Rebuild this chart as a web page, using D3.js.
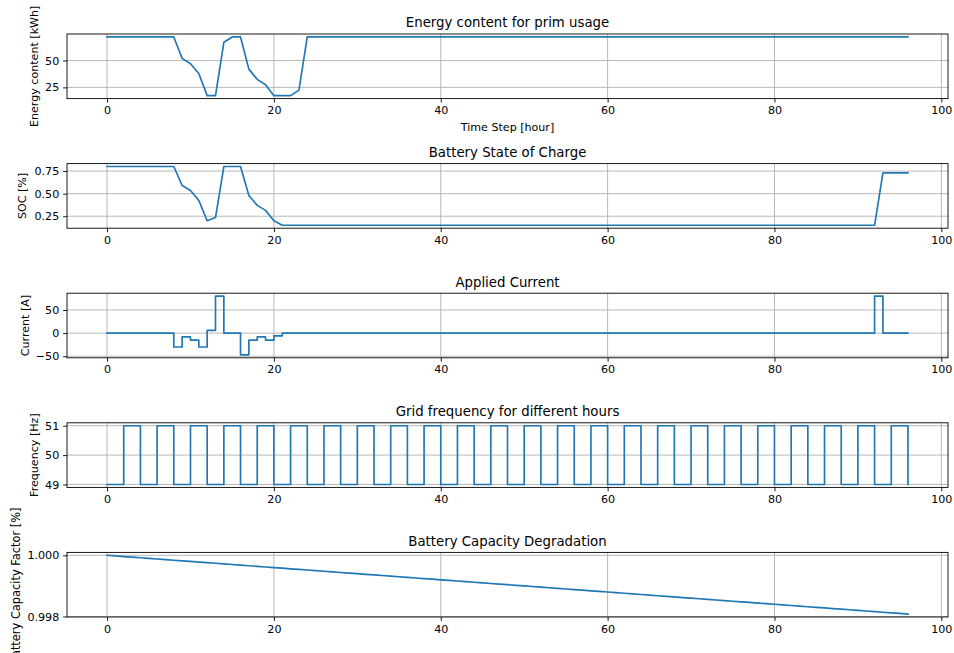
<!DOCTYPE html>
<html>
<head>
<meta charset="utf-8">
<script src="https://cdn.jsdelivr.net/npm/d3@7"></script>
<style>
  html, body { margin: 0; padding: 0; background: #ffffff; }
  svg { display: block; font-family: "DejaVu Sans", sans-serif; }
</style>
</head>
<body>
<svg id="chart" width="954" height="653"></svg>
<script>
// Hourly time steps of the simulation
const timeSteps = [
  0,1,2,3,4,5,6,7,8,9,10,11,12,13,14,15,16,17,18,19,20,21,22,23,24,25,26,27,28,29,
  30,31,32,33,34,35,36,37,38,39,40,41,42,43,44,45,46,47,48,49,50,51,52,53,54,55,56,57,58,59,
  60,61,62,63,64,65,66,67,68,69,70,71,72,73,74,75,76,77,78,79,80,81,82,83,84,85,86,87,88,89,
  90,91,92,93,94,95,96
];

// Energy content reserved for primary usage [kWh]
const energyContent = [
  72,72,72,72,72,72,72,72,72,52,47,38,17.3,17.3,67,72,72,42,32.5,27.5,
  17.3,17.3,17.3,22.5,72,72,72,72,72,72,72,72,72,72,72,72,72,72,72,72,
  72,72,72,72,72,72,72,72,72,72,72,72,72,72,72,72,72,72,72,72,
  72,72,72,72,72,72,72,72,72,72,72,72,72,72,72,72,72,72,72,72,
  72,72,72,72,72,72,72,72,72,72,72,72,72,72,72,72,72
];

// Battery state of charge
const stateOfCharge = [
  0.8,0.8,0.8,0.8,0.8,0.8,0.8,0.8,0.8,0.59,0.535,0.425,0.2,0.235,0.8,0.8,0.8,0.48,0.37,0.315,
  0.2,0.15,0.15,0.15,0.15,0.15,0.15,0.15,0.15,0.15,0.15,0.15,0.15,0.15,0.15,0.15,0.15,0.15,0.15,0.15,
  0.15,0.15,0.15,0.15,0.15,0.15,0.15,0.15,0.15,0.15,0.15,0.15,0.15,0.15,0.15,0.15,0.15,0.15,0.15,0.15,
  0.15,0.15,0.15,0.15,0.15,0.15,0.15,0.15,0.15,0.15,0.15,0.15,0.15,0.15,0.15,0.15,0.15,0.15,0.15,0.15,
  0.15,0.15,0.15,0.15,0.15,0.15,0.15,0.15,0.15,0.15,0.15,0.15,0.15,0.73,0.73,0.73,0.73
];

// Applied battery current [A], held constant over each hour
const appliedCurrent = [
  0,0,0,0,0,0,0,0,-30,-8,-15,-30,6,80,0,0,-47,-15,-8,-15,
  -6,0,0,0,0,0,0,0,0,0,0,0,0,0,0,0,0,0,0,0,
  0,0,0,0,0,0,0,0,0,0,0,0,0,0,0,0,0,0,0,0,
  0,0,0,0,0,0,0,0,0,0,0,0,0,0,0,0,0,0,0,0,
  0,0,0,0,0,0,0,0,0,0,0,0,80,0,0,0,0
];

// Grid frequency per hour [Hz]
const gridFrequency = [
  49,49,51,51,49,49,51,51,49,49,51,51,49,49,51,51,49,49,51,51,
  49,49,51,51,49,49,51,51,49,49,51,51,49,49,51,51,49,49,51,51,
  49,49,51,51,49,49,51,51,49,49,51,51,49,49,51,51,49,49,51,51,
  49,49,51,51,49,49,51,51,49,49,51,51,49,49,51,51,49,49,51,51,
  49,49,51,51,49,49,51,51,49,49,51,51,49,49,51,51,49
];

// Remaining battery capacity factor
const capacityFactor = [
  1.00000,0.99998,0.99996,0.99994,0.99992,0.99990,0.99988,0.99986,0.99984,0.99982,
  0.99980,0.99978,0.99976,0.99974,0.99972,0.99970,0.99968,0.99966,0.99964,0.99962,
  0.99960,0.99958,0.99956,0.99954,0.99952,0.99950,0.99948,0.99946,0.99944,0.99942,
  0.99940,0.99938,0.99936,0.99934,0.99932,0.99930,0.99928,0.99926,0.99924,0.99922,
  0.99920,0.99918,0.99916,0.99914,0.99912,0.99910,0.99908,0.99906,0.99904,0.99902,
  0.99900,0.99898,0.99896,0.99894,0.99892,0.99890,0.99888,0.99886,0.99884,0.99882,
  0.99880,0.99878,0.99876,0.99874,0.99872,0.99870,0.99868,0.99866,0.99864,0.99862,
  0.99860,0.99858,0.99856,0.99854,0.99852,0.99850,0.99848,0.99846,0.99844,0.99842,
  0.99840,0.99838,0.99836,0.99834,0.99832,0.99830,0.99828,0.99826,0.99824,0.99822,
  0.99820,0.99818,0.99816,0.99814,0.99812,0.99810,0.99808
];

const xTicks = [0, 20, 40, 60, 80, 100];

// One entry per subplot
const panels = [
  { title: "Energy content for prim usage", ylabel: "Energy content [kWh]", values: energyContent,
    yTicks: [25, 50], fmt: d3.format("d"), step: false, xlabel: "Time Step [hour]", labelX: 34 },
  { title: "Battery State of Charge", ylabel: "SOC [%]", values: stateOfCharge,
    yTicks: [0.25, 0.5, 0.75], fmt: d3.format(".2f"), step: false, labelX: 22 },
  { title: "Applied Current", ylabel: "Current [A]", values: appliedCurrent,
    yTicks: [-50, 0, 50], fmt: d3.format("d"), step: true, labelX: 25 },
  { title: "Grid frequency for different hours", ylabel: "Frequency [Hz]", values: gridFrequency,
    yTicks: [49, 50, 51], fmt: d3.format("d"), step: true, labelX: 34 },
  { title: "Battery Capacity Degradation", ylabel: "Battery Capacity Factor [%]", values: capacityFactor,
    yTicks: [0.998, 1.0], fmt: d3.format(".3f"), step: false, labelX: 16, labelSize: 11.4, labelShift: 1.5 }
];

const svg = d3.select("#chart");
const left = 67, right = 948;
const firstTop = 34, panelStep = 129.6, panelH = 64.6;
const tickFont = 11.1, titleFont = 13.3;
const lineColor = "#1f77b4", gridColor = "#b0b0b0";
const tickLen = 3.9, tickPad = 3.9;

// Matplotlib-style autoscale: 5% margin around the data
function padded(min, max) {
  const m = (max - min) * 0.05;
  return [min - m, max + m];
}

const xDom = padded(d3.min(timeSteps), d3.max(timeSteps));
const x = d3.scaleLinear().domain(xDom).range([left, right]);

panels.forEach((p, i) => {
  const top = firstTop + i * panelStep;
  const bottom = top + panelH;
  const y = d3.scaleLinear()
    .domain(padded(d3.min(p.values), d3.max(p.values)))
    .range([bottom, top]);

  const g = svg.append("g");

  const clipId = "clip" + i;
  svg.append("clipPath").attr("id", clipId)
    .append("rect").attr("x", left).attr("y", top)
    .attr("width", right - left).attr("height", panelH);

  // grid
  g.append("g").selectAll("line").data(xTicks).join("line")
    .attr("x1", d => x(d)).attr("x2", d => x(d))
    .attr("y1", top).attr("y2", bottom)
    .attr("stroke", gridColor).attr("stroke-width", 0.9);
  g.append("g").selectAll("line").data(p.yTicks).join("line")
    .attr("x1", left).attr("x2", right)
    .attr("y1", d => y(d)).attr("y2", d => y(d))
    .attr("stroke", gridColor).attr("stroke-width", 0.9);

  // data line
  const line = d3.line()
    .x((d, k) => x(timeSteps[k]))
    .y(d => y(d))
    .curve(p.step ? d3.curveStepAfter : d3.curveLinear);
  g.append("path")
    .datum(p.values)
    .attr("clip-path", `url(#${clipId})`)
    .attr("fill", "none")
    .attr("stroke", lineColor)
    .attr("stroke-width", 1.67)
    .attr("stroke-linejoin", "round")
    .attr("stroke-linecap", "square")
    .attr("d", line);

  // x axis
  const xAxis = d3.axisBottom(x).tickValues(xTicks).tickSize(tickLen).tickPadding(tickPad)
    .tickFormat(d3.format("d"));
  const gx = g.append("g").attr("transform", `translate(0,${bottom})`).call(xAxis);
  gx.select(".domain").remove();
  gx.selectAll("line").attr("stroke", "#000").attr("stroke-width", 0.9);
  gx.selectAll("text").attr("font-size", tickFont).attr("font-family", "DejaVu Sans")
    .attr("fill", "#000");

  // y axis
  const yAxis = d3.axisLeft(y).tickValues(p.yTicks).tickSize(tickLen).tickPadding(tickPad)
    .tickFormat(d => p.fmt(d).replace("-", "\u2212"));
  const gy = g.append("g").attr("transform", `translate(${left},0)`).call(yAxis);
  gy.select(".domain").remove();
  gy.selectAll("line").attr("stroke", "#000").attr("stroke-width", 0.9);
  gy.selectAll("text").attr("font-size", tickFont).attr("font-family", "DejaVu Sans")
    .attr("fill", "#000");

  // frame
  g.append("rect")
    .attr("x", left).attr("y", top)
    .attr("width", right - left).attr("height", panelH)
    .attr("fill", "none").attr("stroke", "#000").attr("stroke-width", 0.9);

  // title
  g.append("text")
    .attr("x", (left + right) / 2).attr("y", top - 6.7)
    .attr("text-anchor", "middle")
    .attr("font-size", titleFont)
    .attr("fill", "#000")
    .text(p.title);

  // y label
  g.append("text")
    .attr("transform", `translate(${p.labelX},${(top + bottom) / 2 + (p.labelShift || 0)}) rotate(-90)`)
    .attr("text-anchor", "middle")
    .attr("dy", "0.35em")
    .attr("font-size", p.labelSize || tickFont)
    .attr("fill", "#000")
    .text(p.ylabel);

  // x label
  if (p.xlabel) {
    g.append("text")
      .attr("x", (left + right) / 2).attr("y", bottom + 32)
      .attr("text-anchor", "middle")
      .attr("font-size", tickFont)
      .attr("fill", "#000")
      .text(p.xlabel);
  }
});
</script>
</body>
</html>
